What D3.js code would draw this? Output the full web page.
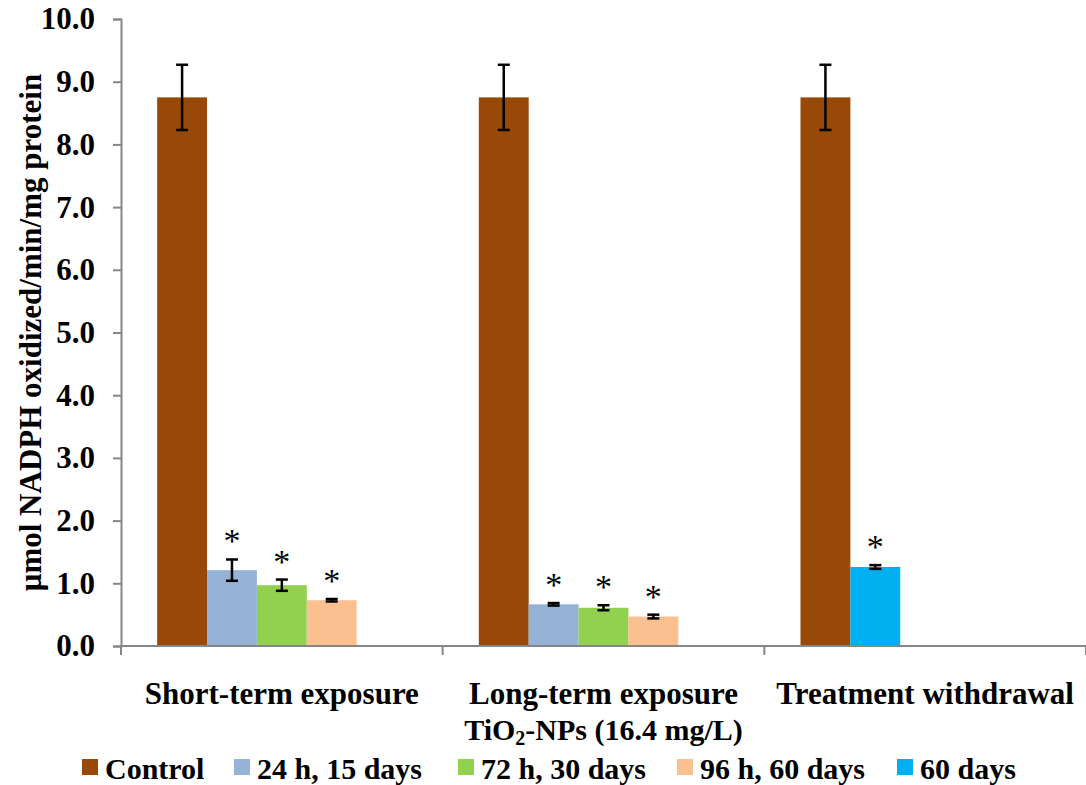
<!DOCTYPE html>
<html>
<head>
<meta charset="utf-8">
<script src="https://cdn.jsdelivr.net/npm/d3@7"></script>
<style>
  body { margin: 0; background: #fff; }
  svg text { font-family: "Liberation Serif", "Times New Roman", serif; font-weight: bold; fill: #000; }
</style>
</head>
<body>
<div id="chart"></div>
<script>
// categories and series
const categories = ["Short-term exposure", "Long-term exposure", "Treatment withdrawal"];
const seriesNames = ["Control", "24 h, 15 days", "72 h, 30 days", "96 h, 60 days", "60 days"];
const seriesColors = ["#984807", "#95b3d7", "#92d050", "#fac090", "#00b0f0"];

// which series sit in each group (in slot order)
const groupSeries = [
    ["Control", "24 h, 15 days", "72 h, 30 days", "96 h, 60 days"],
    ["Control", "24 h, 15 days", "72 h, 30 days", "96 h, 60 days"],
    ["Control", "60 days"]
];
const groupMeans = [
    [8.75, 1.21, 0.97, 0.73],
    [8.75, 0.665, 0.61, 0.47],
    [8.75, 1.26]
];
const groupErrors = [
    [0.52, 0.17, 0.09, 0.02],
    [0.52, 0.02, 0.04, 0.03],
    [0.52, 0.03]
];
// significance marks (asterisk) per bar
const groupSig = [
    [false, true, true, true],
    [false, true, true, true],
    [false, true]
];
const yTicks = [0, 1, 2, 3, 4, 5, 6, 7, 8, 9, 10];

const width = 1086, height = 785;
const margin = { top: 19, right: 0, bottom: 139, left: 121 };
const innerW = width - margin.left - margin.right;
const innerH = height - margin.top - margin.bottom;

const svg = d3.select("#chart").append("svg")
    .attr("width", width)
    .attr("height", height);

const chart = svg.append("g")
    .attr("transform", `translate(${margin.left},${margin.top})`);

const x = d3.scaleBand().domain(categories).range([0, innerW]).padding(0);
const slot = d3.scaleBand().domain(d3.range(5)).range([0, x.bandwidth()])
    .paddingInner(0).paddingOuter(0.725);
const y = d3.scaleLinear().domain([0, 10]).range([innerH, 0]);
const color = d3.scaleOrdinal().domain(seriesNames).range(seriesColors);

// flatten to bar records
const bars = [];
categories.forEach((cat, gi) => {
    groupSeries[gi].forEach((s, si) => {
        bars.push({ cat, series: s, slot: si, value: groupMeans[gi][si], err: groupErrors[gi][si], sig: groupSig[gi][si] });
    });
});

// y axis
const yAxis = chart.append("g")
    .call(d3.axisLeft(y).tickValues(yTicks).tickSize(8).tickPadding(18).tickFormat(d3.format(".1f")));
yAxis.select(".domain").attr("stroke", "#868686").attr("stroke-width", 2);
yAxis.selectAll(".tick line").attr("stroke", "#868686").attr("stroke-width", 2);
yAxis.selectAll(".tick text").style("font-size", "31px");

// bars
chart.selectAll(".bar").data(bars).enter()
    .append("rect")
    .attr("class", "bar")
    .attr("x", d => x(d.cat) + slot(d.slot))
    .attr("width", slot.bandwidth())
    .attr("y", d => y(d.value))
    .attr("height", d => y(0) - y(d.value))
    .attr("fill", d => color(d.series));

// error bars
const eb = chart.selectAll(".err").data(bars).enter().append("g").attr("class", "err")
    .attr("stroke", "#000").attr("stroke-width", 2.5);
const cx = d => x(d.cat) + slot(d.slot) + slot.bandwidth() / 2;
eb.append("line")
    .attr("x1", cx).attr("x2", cx)
    .attr("y1", d => y(d.value + d.err)).attr("y2", d => y(d.value - d.err));
eb.append("line")
    .attr("x1", d => cx(d) - 6).attr("x2", d => cx(d) + 6)
    .attr("y1", d => y(d.value + d.err)).attr("y2", d => y(d.value + d.err));
eb.append("line")
    .attr("x1", d => cx(d) - 6).attr("x2", d => cx(d) + 6)
    .attr("y1", d => y(d.value - d.err)).attr("y2", d => y(d.value - d.err));

// asterisks
chart.selectAll(".sig").data(bars.filter(d => d.sig)).enter()
    .append("text")
    .attr("class", "sig")
    .attr("x", cx)
    .attr("y", d => y(d.value + d.err) - 7)
    .attr("text-anchor", "middle")
    .style("font-size", "34px")
    .style("font-weight", "normal")
    .text("*");

// x axis
chart.append("line")
    .attr("x1", 0).attr("x2", innerW + 2)
    .attr("y1", innerH).attr("y2", innerH)
    .attr("stroke", "#868686").attr("stroke-width", 2);
const bounds = categories.map(c => x(c)).concat([x(categories[2]) + x.bandwidth()]);
chart.selectAll(".xtick").data(bounds).enter()
    .append("line")
    .attr("x1", d => d).attr("x2", d => d)
    .attr("y1", innerH).attr("y2", innerH + 9)
    .attr("stroke", "#868686").attr("stroke-width", 2);

chart.selectAll(".xlabel").data(categories).enter()
    .append("text")
    .attr("class", "xlabel")
    .attr("x", d => x(d) + x.bandwidth() / 2)
    .attr("y", innerH + 58)
    .attr("text-anchor", "middle")
    .style("font-size", "31px")
    .text(d => d);

// x title
const xt = chart.append("text")
    .attr("x", x(categories[1]) + x.bandwidth() / 2)
    .attr("y", innerH + 94)
    .attr("text-anchor", "middle")
    .style("font-size", "30px");
xt.append("tspan").text("TiO");
xt.append("tspan").attr("dy", 5).style("font-size", "20px").text("2");
xt.append("tspan").attr("dy", -5).text("-NPs (16.4 mg/L)");

// y title
chart.append("text")
    .attr("transform", `translate(-80,${innerH / 2}) rotate(-90)`)
    .attr("text-anchor", "middle")
    .style("font-size", "31px")
    .text("μmol NADPH oxidized/min/mg protein");

// legend
const legendX = [82, 234, 458, 677, 897];
const legend = svg.selectAll(".legend").data(seriesNames).enter()
    .append("g").attr("class", "legend")
    .attr("transform", (d, i) => `translate(${legendX[i]},759)`);
legend.append("rect").attr("width", 16).attr("height", 16).attr("fill", d => color(d));
legend.append("text").attr("x", 23).attr("y", 20).style("font-size", "30px").text(d => d);
</script>
</body>
</html>
